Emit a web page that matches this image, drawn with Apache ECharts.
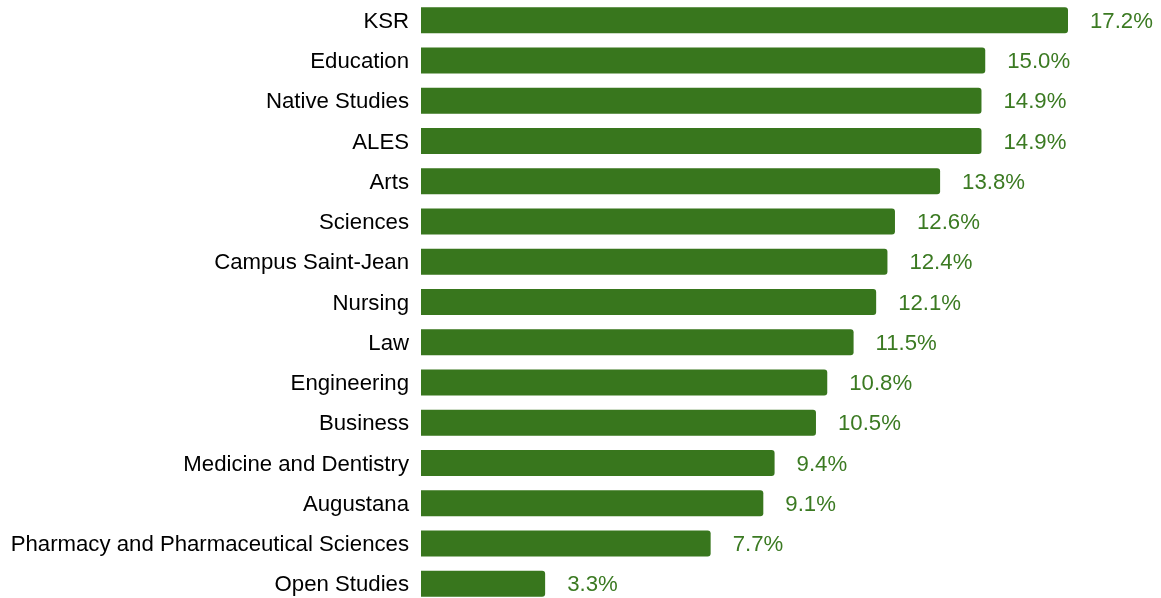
<!DOCTYPE html>
<html>
<head>
<meta charset="utf-8">
<script src="https://cdn.jsdelivr.net/npm/echarts@6/dist/echarts.min.js"></script>
<style>
  html, body { margin: 0; padding: 0; background: #fff; overflow: hidden; }
  #faculty_bar { width: 1161px; height: 604px; }
</style>
</head>
<body>
<div id="faculty_bar"></div>
<script>
// faculties, top to bottom
var faculties = [
    'KSR', 'Education', 'Native Studies', 'ALES', 'Arts', 'Sciences',
    'Campus Saint-Jean', 'Nursing', 'Law', 'Engineering', 'Business',
    'Medicine and Dentistry', 'Augustana',
    'Pharmacy and Pharmaceutical Sciences', 'Open Studies'
];
var rates = [
    17.2, 15.0, 14.9, 14.9, 13.8, 12.6, 12.4, 12.1, 11.5, 10.8, 10.5,
    9.4, 9.1, 7.7, 3.3
];

var chart = echarts.init(document.getElementById('faculty_bar'));
var option = {
    animation: false,
    grid: {
        left: 421,
        right: 93,
        top: 0,
        bottom: 0
    },
    xAxis: {
        type: 'value',
        min: 0,
        max: Math.max.apply(null, rates),
        show: false
    },
    yAxis: {
        type: 'category',
        inverse: true,
        data: faculties,
        axisLine: { show: false },
        axisTick: { show: false },
        axisLabel: {
            margin: 12,
            formatter: function (v) {
                return '{a|' + v + '}';
            },
            rich: {
                a: {
                    color: '#000',
                    fontSize: 22.2,
                    padding: [3, 0, 0, 0],
                    fontFamily: 'Liberation Sans, Arial, sans-serif'
                }
            }
        }
    },
    series: [
        {
            type: 'bar',
            data: rates,
            barWidth: 26,
            itemStyle: {
                color: '#38761d',
                borderRadius: [0, 3, 3, 0]
            },
            label: {
                show: true,
                position: 'right',
                distance: 22,
                offset: [0, 1.5],
                color: '#3b7a22',
                fontSize: 22.2,
                fontFamily: 'Liberation Sans, Arial, sans-serif',
                formatter: function (p) {
                    return p.value.toFixed(1) + '%';
                }
            }
        }
    ]
};
chart.setOption(option);
</script>
</body>
</html>
